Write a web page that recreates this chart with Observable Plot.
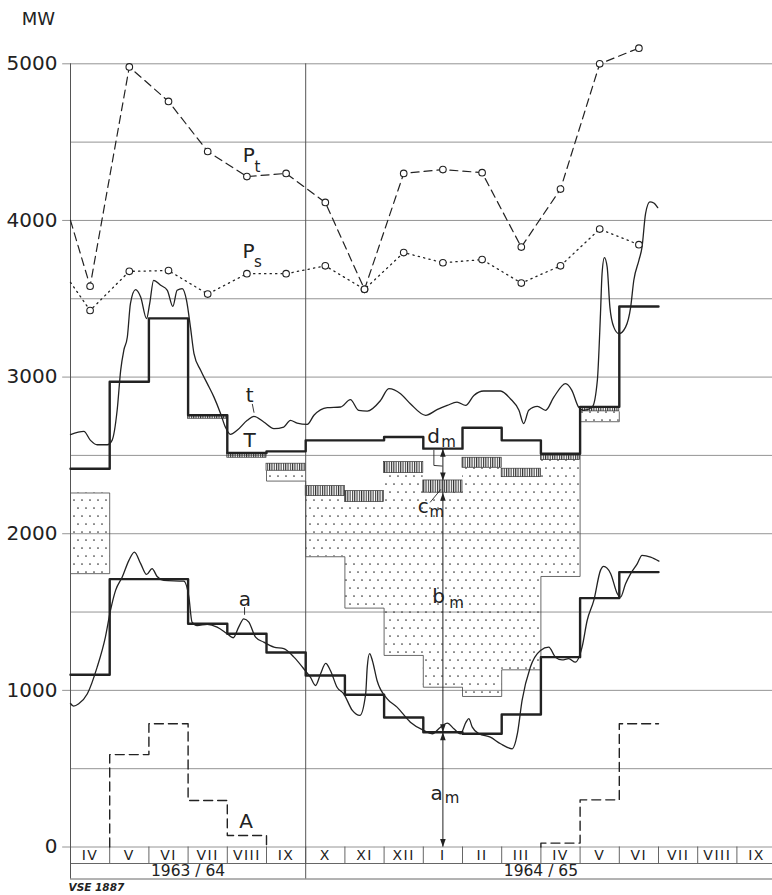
<!DOCTYPE html>
<html><head><meta charset="utf-8">
<script src="https://cdn.jsdelivr.net/npm/d3@7"></script>
<script src="https://cdn.jsdelivr.net/npm/@observablehq/plot@0.6"></script>
<style>
body{margin:0;background:#fff}
#chart svg{display:block}
.months text{letter-spacing:1.5px}
</style>
</head><body>
<svg width="0" height="0" style="position:absolute">
<defs>
<pattern id="stipple" width="8" height="16" patternUnits="userSpaceOnUse">
<circle cx="2" cy="4" r="0.85" fill="#333"/>
<circle cx="6" cy="12" r="0.85" fill="#333"/>
</pattern>
<pattern id="hatch" width="2.3" height="10" patternUnits="userSpaceOnUse">
<rect x="0" y="0" width="1.1" height="10" fill="#333"/>
</pattern>
</defs>
</svg>
<div id="chart"></div>
<script>
// ---------------- data ----------------
const months = ["IV","V","VI","VII","VIII","IX","X","XI","XII","I","II","III","IV","V","VI","VII","VIII","IX"];
const years = ["1963 / 64", "1964 / 65"];
const yearSpans = [[0, 6], [6, 18]];
const yTicks = [0, 1000, 2000, 3000, 4000, 5000];
const gridValues = d3.range(0, 5001, 500);

// Pt and Ps: monthly points (Apr 1963 .. Jun 1965), plus value where the line enters the frame
const ptEdge = 4000;
const ptValues = [3580, 4980, 4760, 4440, 4280, 4300, 4115, 3560, 4300, 4325, 4305, 3830, 4200, 5000, 5100];
const psEdge = 3605;
const psValues = [3425, 3675, 3680, 3530, 3660, 3660, 3710, 3560, 3795, 3730, 3750, 3600, 3710, 3945, 3845];

// monthly steps
const tStep = [2415, 2970, 3375, 2756, 2515, 2526, 2596, 2596, 2617, 2543, 2677, 2596, 2511, 2810, 3451];
const aStep = [1100, 1710, 1710, 1425, 1361, 1242, 1095, 972, 827, 733, 723, 846, 1212, 1589, 1755];

// hatched band c (top, bottom) and stippled band b (top, bottom)
const cTop = [null, null, null, 2756, 2515, 2447, 2304, 2272, 2457, 2340, 2485, 2415, 2500, 2809, null];
const cBot = [null, null, null, 2734, 2485, 2402, 2240, 2202, 2387, 2262, 2421, 2361, 2470, 2781, null];
const bTop = [2260, null, null, null, null, 2402, 2240, 2202, 2387, 2262, 2421, 2361, 2470, 2781, null];
const bBot = [1745, null, null, null, null, 2336, 1853, 1525, 1223, 1020, 961, 1131, 1727, 2715, null];

// A (dashed steps)
const aLoad6364Start = 1;
const aLoad6364 = [590, 787, 297, 73];
const aLoad6465Start = 12;
const aLoad6465 = [25, 301, 787];

// smooth curves t and a: [month position, MW]
const tCurve = [[0,2632],[0.34,2653],[0.51,2596],[0.68,2568],[0.94,2568],[1.06,2596],[1.19,2788],[1.28,3043],[1.36,3171],[1.45,3256],[1.53,3471],[1.66,3558],[1.79,3511],[1.94,3373],[2.02,3469],[2.12,3618],[2.30,3586],[2.47,3554],[2.61,3452],[2.72,3554],[2.85,3565],[2.96,3490],[3.06,3319],[3.15,3150],[3.32,3043],[3.49,2958],[3.66,2872],[3.83,2766],[3.95,2681],[4.08,2634],[4.25,2660],[4.51,2724],[4.68,2749],[4.93,2713],[5.19,2671],[5.44,2681],[5.61,2724],[5.78,2706],[6.04,2698],[6.21,2756],[6.55,2805],[6.89,2809],[7.14,2856],[7.35,2788],[7.57,2783],[7.91,2851],[8.12,2926],[8.42,2894],[8.67,2830],[9.06,2756],[9.35,2792],[9.61,2819],[9.86,2840],[10.08,2819],[10.29,2883],[10.54,2911],[10.97,2911],[11.22,2862],[11.44,2788],[11.56,2703],[11.69,2788],[11.91,2813],[12.12,2788],[12.33,2872],[12.63,2958],[12.79,2915],[12.96,2809],[13.09,2788],[13.31,2809],[13.44,2979],[13.52,3405],[13.56,3660],[13.62,3763],[13.69,3703],[13.76,3447],[13.86,3319],[13.99,3277],[14.16,3319],[14.29,3447],[14.37,3618],[14.50,3745],[14.58,3830],[14.67,4044],[14.78,4118],[14.88,4111],[14.98,4082]];
const aCurve = [[0,916],[0.08,899],[0.21,914],[0.43,978],[0.68,1148],[0.89,1340],[1.02,1510],[1.15,1638],[1.32,1723],[1.49,1830],[1.63,1883],[1.79,1809],[1.94,1740],[2.08,1777],[2.21,1727],[2.38,1702],[2.89,1697],[3.02,1595],[3.10,1436],[3.23,1414],[3.49,1421],[3.74,1404],[4.00,1361],[4.15,1336],[4.29,1404],[4.42,1457],[4.55,1436],[4.72,1340],[4.93,1308],[5.19,1276],[5.44,1266],[5.70,1212],[5.95,1138],[6.12,1084],[6.25,1031],[6.38,1106],[6.51,1172],[6.63,1127],[6.80,1020],[6.97,978],[7.19,872],[7.38,840],[7.53,978],[7.57,1148],[7.63,1234],[7.70,1191],[7.82,1063],[8.08,946],[8.33,893],[8.67,797],[9.01,744],[9.23,723],[9.44,765],[9.61,791],[9.78,755],[9.95,723],[10.09,797],[10.16,819],[10.25,765],[10.42,723],[10.71,701],[10.97,659],[11.27,627],[11.40,723],[11.52,936],[11.73,1148],[11.99,1255],[12.20,1276],[12.37,1212],[12.54,1195],[12.71,1202],[12.88,1180],[13.05,1276],[13.18,1446],[13.35,1574],[13.52,1766],[13.60,1791],[13.78,1745],[13.95,1617],[14.03,1595],[14.16,1681],[14.29,1745],[14.46,1809],[14.58,1862],[14.80,1851],[15.01,1825]];

// annotations
const annMonth = 9; // month "I" 1965, measured at its centre
const labels = [
  {m: 4.55, v: 4413, t: "P", s: "t", sdx: 8.5, sdy: 11.5},
  {m: 4.54, v: 3800, t: "P", s: "s", sdx: 9.5, sdy: 10.5},
  {m: 4.57, v: 2880, t: "t", s: "", sdx: 0, sdy: 0},
  {m: 4.57, v: 2593, t: "T", s: "", sdx: 0, sdy: 0},
  {m: 4.45, v: 1581, t: "a", s: "", sdx: 0, sdy: 0},
  {m: 4.48, v: 163, t: "A", s: "", sdx: 0, sdy: 0},
  {m: 9.26, v: 2618, t: "d", s: "m", sdx: 15, sdy: 5.5},
  {m: 9.0, v: 2171, t: "c", s: "m", sdx: 13.5, sdy: 5.5},
  {m: 9.39, v: 1600, t: "b", s: "m", sdx: 18, sdy: 7},
  {m: 9.34, v: 342, t: "a", s: "m", sdx: 15.5, sdy: 5}
];
const leaders = [
  [[4.64, 2826], [4.68, 2775]],
  [[4.44, 1529], [4.44, 1485]],
  [[9.27, 2532], [9.27, 2436], [9.48, 2432]],
  [[9.18, 2202], [9.44, 2281]]
];

// ---------------- layout ----------------
const W = 772, H = 895;
const xLeft = 70, xRight = 775.6, yZeroPx = 846.5, yTopPx = 63.3;
const pxPerMW = (yZeroPx - yTopPx) / 5000;
const pxPerMonth = (xRight - xLeft) / 18;
const monthRow = -16.5 / pxPerMW;
const yearRow = -32 / pxPerMW;
const ink = "#222";

function steps(start, values) {
  const pts = [];
  values.forEach((v, i) => { if (v != null) pts.push({m: start + i, v}, {m: start + i + 1, v}); });
  return pts;
}
const tSteps = steps(0, tStep);
const aSteps = steps(0, aStep);
const A1 = [{m: aLoad6364Start, v: 0}, ...steps(aLoad6364Start, aLoad6364), {m: aLoad6364Start + aLoad6364.length, v: 0}];
const A2 = [{m: aLoad6465Start, v: 0}, ...steps(aLoad6465Start, aLoad6465)];

const hatchRects = cTop.map((t, i) => t == null ? null : {i, top: t, bot: cBot[i]}).filter(Boolean);
const stippleRects = bTop.map((t, i) => t == null ? null : {i, top: t, bot: bBot[i]}).filter(Boolean);
const outline = [];
bBot.forEach((b, i) => {
  if (b == null) return;
  outline.push({x1: i, y1: b, x2: i + 1, y2: b});
  if (cTop[i] == null) outline.push({x1: i, y1: bTop[i], x2: i + 1, y2: bTop[i]});
  const prev = i > 0 ? bBot[i - 1] : null;
  const next = i + 1 < bBot.length ? bBot[i + 1] : null;
  if (prev == null) outline.push({x1: i, y1: bTop[i], x2: i, y2: b});
  else outline.push({x1: i, y1: prev, x2: i, y2: b});
  if (next == null) outline.push({x1: i + 1, y1: bTop[i], x2: i + 1, y2: b});
});

const ptLine = [{m: 0, v: ptEdge}, ...ptValues.map((v, i) => ({m: i + 0.5, v}))];
const psLine = [{m: 0, v: psEdge}, ...psValues.map((v, i) => ({m: i + 0.5, v}))];
const ptPts = ptValues.map((v, i) => ({m: i + 0.5, v}));
const psPts = psValues.map((v, i) => ({m: i + 0.5, v}));

const annX = annMonth + 0.5;
const upTips = [aStep[annMonth], cBot[annMonth], tStep[annMonth]];
const downTips = [0, aStep[annMonth], cTop[annMonth]];
const upHead = {draw(ctx) { ctx.moveTo(0, 0); ctx.lineTo(2.8, 8); ctx.lineTo(-2.8, 8); ctx.closePath(); }};
const downHead = {draw(ctx) { ctx.moveTo(0, 0); ctx.lineTo(2.8, -8); ctx.lineTo(-2.8, -8); ctx.closePath(); }};

const leaderSegs = leaders.map((pts, k) => pts.map(([m, v]) => ({m, v, k}))).flat();

const chart = Plot.plot({
  width: W, height: H,
  marginLeft: xLeft, marginRight: 0, marginTop: yTopPx, marginBottom: H - yZeroPx,
  x: {domain: [0, 18], range: [xLeft, xRight], axis: null},
  y: {domain: [0, 5000], axis: null},
  style: {fontFamily: "DejaVu Sans, sans-serif", background: "#fff", color: ink},
  marks: [
    // grid
    Plot.ruleY(gridValues, {y: d => d, x1: d => d % 1000 === 0 ? -0.2 : 0, x2: 18, stroke: "#888", strokeWidth: 0.9}),
    // stippled and hatched bands
    Plot.rect(stippleRects, {x1: d => d.i, x2: d => d.i + 1, y1: "bot", y2: "top", fill: "url(#stipple)"}),
    Plot.link(outline, {x1: "x1", y1: "y1", x2: "x2", y2: "y2", stroke: "#444", strokeWidth: 0.8}),
    Plot.rect(hatchRects, {x1: d => d.i, x2: d => d.i + 1, y1: "bot", y2: "top", fill: "url(#hatch)", stroke: "#333", strokeWidth: 0.7}),
    // frame + month axis
    Plot.ruleX([0, 6], {x: d => d, y1: yearRow, y2: 5000, stroke: "#555", strokeWidth: 1}),
    Plot.ruleX(d3.range(1, 18), {x: d => d, y1: monthRow, y2: 0, stroke: "#555", strokeWidth: 0.9}),
    Plot.ruleY([monthRow, yearRow], {y: d => d, x1: 0, x2: 18, stroke: "#555", strokeWidth: 0.9}),
    Plot.text(months, {x: (d, i) => i + 0.5, y: monthRow / 2, text: d => d, fontSize: 14, fill: ink, className: "months", lineAnchor: "middle"}),
    Plot.text(years, {x: (d, i) => (yearSpans[i][0] + yearSpans[i][1]) / 2, y: (monthRow + yearRow) / 2, text: d => d, fontSize: 15.5, fill: ink, lineAnchor: "middle"}),
    Plot.text(yTicks, {x: 0, y: d => d, dx: -13, text: d => String(d), textAnchor: "end", lineAnchor: "middle", fontSize: 20, fill: ink}),
    Plot.text(["MW"], {frameAnchor: "top-left", dx: -32, dy: -45, text: d => d, textAnchor: "middle", lineAnchor: "middle", fontSize: 18, fill: ink}),
    Plot.text(["VSE 1887"], {frameAnchor: "bottom-left", dx: -2, dy: 41, text: d => d, textAnchor: "start", lineAnchor: "middle", fontSize: 10.5, fontWeight: "bold", fontStyle: "italic", fill: ink}),
    // A dashed
    Plot.line(A1, {x: "m", y: "v", stroke: ink, strokeWidth: 1.4, strokeDasharray: "9,5"}),
    Plot.line(A2, {x: "m", y: "v", stroke: ink, strokeWidth: 1.4, strokeDasharray: "9,5"}),
    // steps
    Plot.line(aSteps, {x: "m", y: "v", stroke: ink, strokeWidth: 2.4}),
    Plot.line(tSteps, {x: "m", y: "v", stroke: ink, strokeWidth: 2.4}),
    // smooth curves
    Plot.line(aCurve, {x: d => d[0], y: d => d[1], curve: "monotone-x", stroke: ink, strokeWidth: 1.3}),
    Plot.line(tCurve, {x: d => d[0], y: d => d[1], curve: "monotone-x", stroke: ink, strokeWidth: 1.3}),
    // Pt / Ps
    Plot.line(ptLine, {x: "m", y: "v", stroke: ink, strokeWidth: 1.2, strokeDasharray: "8,5"}),
    Plot.line(psLine, {x: "m", y: "v", stroke: ink, strokeWidth: 1.3, strokeDasharray: "1.3,4.2"}),
    Plot.dot(ptPts, {x: "m", y: "v", r: 3.3, fill: "#fff", stroke: ink, strokeWidth: 1.1}),
    Plot.dot(psPts, {x: "m", y: "v", r: 3.3, fill: "#fff", stroke: ink, strokeWidth: 1.1}),
    // annotation arrows
    Plot.ruleX([annX], {x: d => d, y1: 0, y2: tStep[annMonth], stroke: ink, strokeWidth: 1}),
    Plot.dot(upTips, {x: annX, y: d => d, symbol: upHead, r: 2, fill: ink, stroke: null}),
    Plot.dot(downTips, {x: annX, y: d => d, symbol: downHead, r: 2, fill: ink, stroke: null}),
    Plot.line(leaderSegs, {x: "m", y: "v", z: "k", stroke: ink, strokeWidth: 0.9}),
    // labels
    Plot.text(labels, {x: "m", y: "v", text: "t", fontSize: 20, fill: ink, lineAnchor: "middle"}),
    Plot.text(labels.filter(d => d.s), {x: d => d.m + d.sdx / pxPerMonth, y: d => d.v - d.sdy / pxPerMW, text: "s", fontSize: 15, fill: ink, lineAnchor: "middle"})
  ]
});
document.getElementById("chart").appendChild(chart);
</script>
</body></html>
